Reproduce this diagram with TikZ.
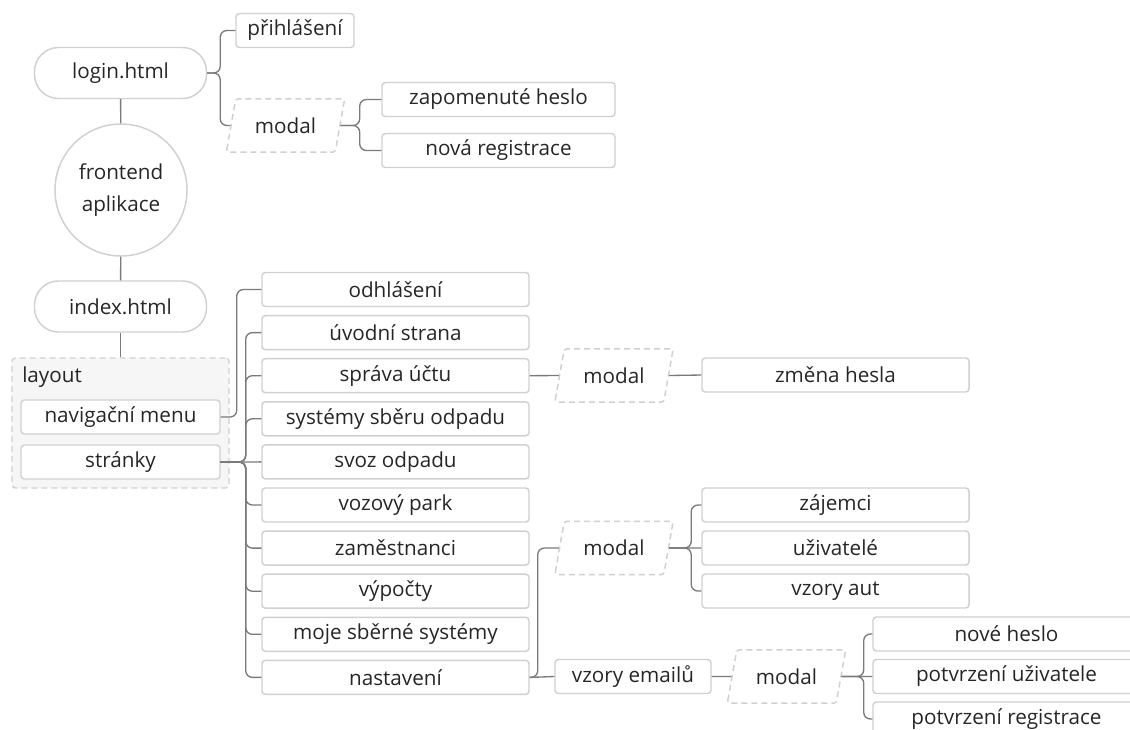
\documentclass[tikz,border=0pt]{standalone}
\usepackage{fontspec}
\setmainfont{Open Sans}
\usetikzlibrary{shapes.geometric}
\definecolor{linegray}{HTML}{7A7A7A}
\definecolor{boxgray}{HTML}{D0D0D0}
\definecolor{txtgray}{HTML}{262626}
\definecolor{layoutfill}{HTML}{F6F6F6}
\tikzset{
  base/.style={text=txtgray, font=\fontsize{15.5}{24}\selectfont, inner sep=0pt},
  leaf/.style={base, draw=boxgray, line width=1.1pt, rounded corners=2.5pt,
    minimum height=25.5pt, minimum width=#1},
  leaf/.default=200.25pt,
  pill/.style={base, draw=boxgray, line width=1.1pt, rounded corners=18pt,
    minimum width=129pt, minimum height=38.25pt},
  modal/.style={base, draw=boxgray, line width=1.1pt, dash pattern=on 4.5pt off 3pt,
    trapezium, trapezium left angle=70, trapezium right angle=110,
    trapezium stretches=true, rounded corners=2pt,
    minimum width=89pt, minimum height=40pt},
  container/.style={draw=boxgray, fill=layoutfill, line width=1.1pt,
    dash pattern=on 4.5pt off 3pt, rounded corners=2.5pt},
  link/.style={draw=linegray, line width=1pt, rounded corners=5pt},
  elbow/.style={to path={-- ++(#1,0) |- (\tikztotarget)}},
}
\begin{document}
\begin{tikzpicture}[x=0.75pt, y=-0.75pt]
  \useasboundingbox (0,0) rectangle (1130,729);
  % login page
  \node[pill] (login) at (120.5,73) {login.html};
  \node[leaf=88.5pt] (prihl) at (295,30.5) {přihlášení};
  \node[modal] (modalA) at (285.5,125.5) {modal};
  \node[leaf=174.75pt] (zapom) at (498.5,99.5) {zapomenuté heslo};
  \node[leaf=174.75pt] (novareg) at (498.5,150.5) {nová registrace};
  % app
  \node[base, circle, draw=boxgray, line width=1.1pt, minimum size=99pt, align=center]
    (app) at (121,190) {frontend\\aplikace};
  \node[pill] (index) at (120.5,306.5) {index.html};
  % layout
  \node[container, minimum width=162.75pt, minimum height=97.5pt] (layout) at (120.5,423) {};
  \node[base, anchor=west] (layoutlbl) at (22,377) {layout};
  \node[leaf=149.25pt, fill=white] (nav) at (120.5,417) {navigační menu};
  \node[leaf=149.25pt, fill=white] (stranky) at (120.5,462) {stránky};
  % pages
  \foreach \nm/\txt [count=\i from 0] in {odhl/odhlášení, uvod/úvodní strana,
      sprava/správa účtu, systemy/systémy sběru odpadu, svoz/svoz odpadu,
      vozovy/vozový park, zamest/zaměstnanci, vypocty/výpočty,
      moje/moje sběrné systémy, nastav/nastavení}
    \node[leaf] (\nm) at (395.5,289.5+43.1*\i) {\txt};
  % modals
  \node[modal] (modalB) at (614,375.5) {modal};
  \node[leaf] (zmena) at (835.5,375) {změna hesla};
  \node[modal] (modalC) at (614,548) {modal};
  \node[leaf] (zajemci) at (835.5,505) {zájemci};
  \node[leaf] (uzivatele) at (835.5,548) {uživatelé};
  \node[leaf] (vzoryaut) at (835.5,591) {vzory aut};
  \node[leaf=117pt] (emaily) at (633,676.5) {vzory emailů};
  \node[modal] (modalD) at (786.5,676.5) {modal};
  \node[leaf] (noveheslo) at (1006.5,634) {nové heslo};
  \node[leaf] (potvuziv) at (1006.5,676.5) {potvrzení uživatele};
  \node[leaf] (potvreg) at (1006.5,719) {potvrzení registrace};
  % links
  \draw[link] (login) -- (app);
  \draw[link] (app) -- (index);
  \draw[link] (index) -- (layout);
  \draw[link] (login.east) to[elbow=13] (prihl.west);
  \draw[link] (login.east) to[elbow=13] (modalA.west);
  \draw[link] (modalA.east) to[elbow=19] (zapom.west);
  \draw[link] (modalA.east) to[elbow=19] (novareg.west);
  \draw[link] (nav.east) to[elbow=16] (odhl.west);
  \foreach \nm in {uvod,sprava,systemy,vozovy,zamest,vypocty,moje,nastav}
    \draw[link] (stranky.east) to[elbow=25] (\nm.west);
  \draw[link] (stranky.east) -- (svoz.west);
  \draw[link] (sprava.east) -- (modalB.west);
  \draw[link] (modalB.east) -- (zmena.west);
  \draw[link] (nastav.east) to[elbow=8] (modalC.west);
  \draw[link] (nastav.east) -- (emaily.west);
  \foreach \nm in {zajemci,vzoryaut}
    \draw[link] (modalC.east) to[elbow=22] (\nm.west);
  \draw[link] (modalC.east) -- (uzivatele.west);
  \draw[link] (emaily.east) -- (modalD.west);
  \foreach \nm in {noveheslo,potvreg}
    \draw[link] (modalD.east) to[elbow=22] (\nm.west);
  \draw[link] (modalD.east) -- (potvuziv.west);
\end{tikzpicture}
\end{document}
